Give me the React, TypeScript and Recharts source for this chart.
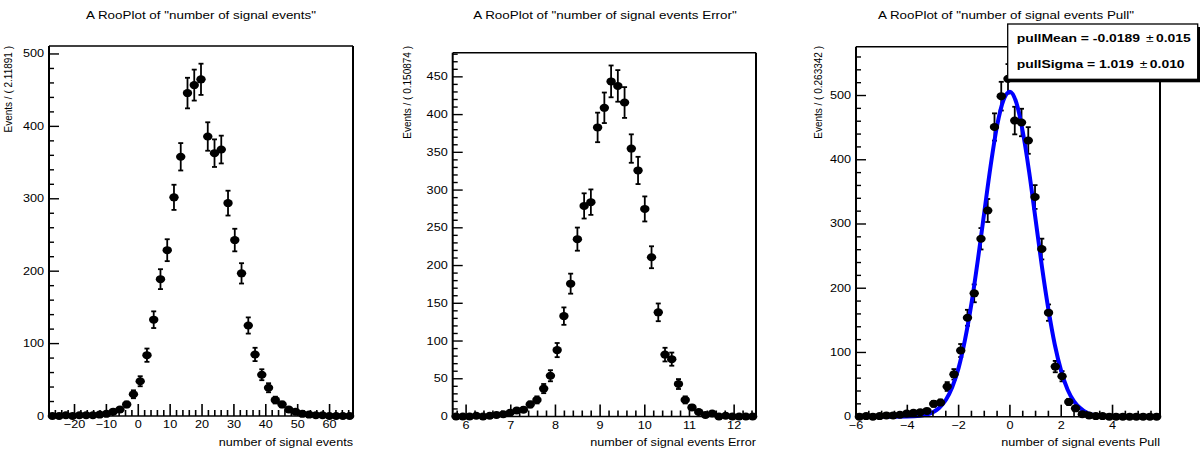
import React from "react";
import { ComposedChart, Scatter, Line, XAxis, YAxis, ErrorBar, ReferenceLine } from "recharts";

const FONT = '"Liberation Sans", Arial, Helvetica, sans-serif';

// panel 1: number of signal events (45 bins)
const sigMin = -28;
const sigBin = 2.11891;
const sigCounts = [
  0, 0, 1, 0, 1, 1, 1, 2, 3, 6, 9, 16, 30, 48, 84, 133, 189, 229, 302, 358, 446, 457, 465,
  386, 363, 368, 294, 243, 197, 125, 85, 57, 39, 22, 16, 9, 6, 3, 2, 1, 1, 0, 0, 0, 0,
];

// panel 2: number of signal events Error
const errMin = 5.7;
const errBin = 0.150874;
const errCounts = [
  0, 0, 0, 1, 0, 1, 2, 3, 5, 8, 9, 16, 22, 37, 54, 88, 133, 176, 235, 279, 284, 383, 409,
  444, 438, 416, 355, 326, 275, 211, 138, 82, 76, 43, 22, 12, 6, 2, 4, 0, 1, 0, 0, 0, 0,
];

// panel 3: number of signal events Pull
const pullMin = -6;
const pullBin = 0.263342;
const pullCounts = [
  0, 1, 0, 1, 2, 2, 3, 5, 6, 7, 9, 20, 22, 47, 66, 103, 154, 192, 277, 321, 451, 499, 526,
  461, 458, 430, 342, 261, 162, 78, 63, 23, 13, 4, 2, 1, 1, 0, 0, 0, 0, 0, 0, 0, 0,
];

// blue gaussian fit
const fitX = [-5.75, -5, -4.5, -4, -3.5, -3, -2.75, -2.5, -2.25, -2, -1.75, -1.5, -1.25, -1, -0.75, -0.5, -0.25, 0,
  0.25, 0.5, 0.75, 1, 1.25, 1.5, 1.75, 2, 2.25, 2.5, 2.75, 3, 3.5, 4, 4.5, 5, 5.75];
const fitY = [0, 0, 0, 0.2, 1.5, 7, 14, 26, 46, 76, 120, 176, 244, 318, 391, 453, 493, 506,
  489, 444, 381, 307, 233, 167, 112, 71, 42, 24, 13, 6, 1.3, 0.2, 0, 0, 0];

const titles = [
  'A RooPlot of "number of signal events"',
  'A RooPlot of "number of signal events Error"',
  'A RooPlot of "number of signal events Pull"',
];
const xTitles = ["number of signal events", "number of signal events Error", "number of signal events Pull"];
const yTitles = ["Events / ( 2.11891 )", "Events / ( 0.150874 )", "Events / ( 0.263342 )"];

const sigXMajor = [-20, -10, 0, 10, 20, 30, 40, 50, 60];
const errXMajor = [6, 7, 8, 9, 10, 11, 12];
const pullXMajor = [-6, -4, -2, 0, 2, 4];
const sigYMajor = [0, 100, 200, 300, 400, 500];
const errYMajor = [0, 50, 100, 150, 200, 250, 300, 350, 400, 450];
const pullYMajor = [0, 100, 200, 300, 400, 500];

const steps = (from: number, to: number, step: number) => {
  const out: number[] = [];
  for (let v = from; v <= to + 1e-9; v += step) out.push(Math.round(v * 1000) / 1000);
  return out;
};

const toPoints = (min: number, bin: number, counts: number[]) =>
  counts.map((n, i) => ({ x: min + bin * (i + 0.5), y: n, err: Math.sqrt(n) }));

const fmt = (v: number) => (v < 0 ? "\u2212" + Math.abs(v) : String(v));
const isMajor = (majors: number[], v: number) => majors.some((m) => Math.abs(m - v) < 1e-6);

const Marker = (p: any) => <ellipse cx={p.cx} cy={p.cy} rx={4.7} ry={4} fill="#000" />;

type Frame = { l: number; r: number; t: number; b: number };

function Panel(props: {
  left: number;
  frame: Frame;
  xDomain: [number, number];
  yMax: number;
  xMajor: number[];
  xMinor: number[];
  yMajor: number[];
  yMinor: number[];
  points: { x: number; y: number; err: number }[];
  curve?: { x: number; y: number }[];
}) {
  const { left, frame: f, xDomain, yMax, xMajor, xMinor, yMajor, yMinor, points, curve } = props;
  const xTicks = Array.from(new Set([...xMajor, ...xMinor])).sort((a, b) => a - b);
  const yTicks = Array.from(new Set([...yMajor, ...yMinor])).sort((a, b) => a - b);

  const XTick = (p: any) => {
    const v = p.payload.value;
    const major = isMajor(xMajor, v);
    return (
      <g>
        <line x1={p.x} x2={p.x} y1={p.y} y2={p.y - (major ? 12 : 6)} stroke="#000" strokeWidth={1.6} />
        {major && (
          <text transform={`translate(${p.x},${p.y + 12}) scale(1.15,1)`} textAnchor="middle" fontSize={11} fontFamily={FONT} fill="#000">
            {fmt(v)}
          </text>
        )}
      </g>
    );
  };
  const YTick = (p: any) => {
    const v = p.payload.value;
    const major = isMajor(yMajor, v);
    return (
      <g>
        <line x1={p.x} x2={p.x + (major ? 10 : 5)} y1={p.y} y2={p.y} stroke="#000" strokeWidth={1.4} />
        {major && (
          <text transform={`translate(${p.x - 5},${p.y + 3.5}) scale(1.15,1)`} textAnchor="end" fontSize={11} fontFamily={FONT} fill="#000">
            {fmt(v)}
          </text>
        )}
      </g>
    );
  };

  return (
    <div style={{ position: "absolute", left, top: 0 }}>
      <ComposedChart
        width={400}
        height={450}
        margin={{ top: f.t, bottom: 450 - f.b - 1, left: f.l - left - 1, right: left + 400 - f.r }}
      >
        <XAxis
          dataKey="x"
          type="number"
          domain={xDomain}
          ticks={xTicks}
          interval={0}
          height={1}
          tickSize={0}
          tickMargin={0}
          tickLine={false}
          axisLine={{ stroke: "#000", strokeWidth: 1.6 }}
          tick={XTick}
        />
        <YAxis
          dataKey="y"
          type="number"
          domain={[0, yMax]}
          ticks={yTicks}
          interval={0}
          width={1}
          tickSize={0}
          tickMargin={0}
          tickLine={false}
          axisLine={{ stroke: "#000", strokeWidth: 2 }}
          tick={YTick}
        />
        <ReferenceLine x={xDomain[1]} stroke="#000" strokeWidth={2} />
        <ReferenceLine y={yMax} stroke="#000" strokeWidth={1.5} />
        <Scatter data={points} dataKey="y" fill="#000" shape={Marker} isAnimationActive={false}>
          <ErrorBar dataKey="err" direction="y" width={2.5} stroke="#000" strokeWidth={1.8} />
        </Scatter>
        {curve && (
          <Line
            data={curve}
            dataKey="y"
            type="monotone"
            stroke="#0000ff"
            strokeWidth={4}
            dot={false}
            activeDot={false}
            isAnimationActive={false}
          />
        )}
      </ComposedChart>
    </div>
  );
}

const frames: Frame[] = [
  { l: 49, r: 353, t: 46, b: 416 },
  { l: 452.7, r: 756, t: 52.7, b: 416.5 },
  { l: 856, r: 1160, t: 46.7, b: 416.7 },
];

export default function App() {
  const curve = fitX.map((x, i) => ({ x, y: fitY[i] }));
  const titleCenters = [201, 605, 1006];
  const yTitleX = [12, 411, 822];
  return (
    <div style={{ position: "absolute", left: 0, top: 0, width: 1200, height: 450, background: "#fff", fontFamily: FONT }}>
      <Panel
        left={0}
        frame={frames[0]}
        xDomain={[sigMin, sigMin + sigBin * sigCounts.length]}
        yMax={511}
        xMajor={sigXMajor}
        xMinor={steps(-26, 66, 2)}
        yMajor={sigYMajor}
        yMinor={steps(20, 500, 20)}
        points={toPoints(sigMin, sigBin, sigCounts)}
      />
      <Panel
        left={400}
        frame={frames[1]}
        xDomain={[errMin, errMin + errBin * errCounts.length]}
        yMax={482}
        xMajor={errXMajor}
        xMinor={steps(5.8, 12.4, 0.2)}
        yMajor={errYMajor}
        yMinor={steps(10, 480, 10)}
        points={toPoints(errMin, errBin, errCounts)}
      />
      <Panel
        left={800}
        frame={frames[2]}
        xDomain={[pullMin, pullMin + pullBin * pullCounts.length]}
        yMax={576}
        xMajor={pullXMajor}
        xMinor={steps(-5.5, 5.5, 0.5)}
        yMajor={pullYMajor}
        yMinor={steps(20, 560, 20)}
        points={toPoints(pullMin, pullBin, pullCounts)}
        curve={curve}
      />
      <svg width={1200} height={450} style={{ position: "absolute", left: 0, top: 0, pointerEvents: "none" }} fontFamily={FONT}>
        {titles.map((t, i) => (
          <text key={t} transform={`translate(${titleCenters[i]},19) scale(1.22,1)`} textAnchor="middle" fontSize={11} fill="#000">
            {t}
          </text>
        ))}
        {xTitles.map((t, i) => (
          <text key={t} transform={`translate(${frames[i].r},445.5) scale(1.15,1)`} textAnchor="end" fontSize={11} fill="#000">
            {t}
          </text>
        ))}
        {yTitles.map((t, i) => (
          <text key={t} transform={`translate(${yTitleX[i]},46) scale(1.15,1) rotate(-90)`} textAnchor="end" fontSize={10} fill="#000">
            {t}
          </text>
        ))}
        <rect x={1010.7} y={27} width={190} height={55.3} fill="#000" />
        <rect x={1007.7} y={24} width={190} height={55.3} fill="#fff" stroke="#000" strokeWidth={1.3} />
        <text transform="translate(1016.7,41.7) scale(1.2,1)" fontSize={11.6} fontWeight="bold" fill="#000">
          pullMean = -0.0189
          <tspan dx={5} fontWeight="normal">±</tspan>
          <tspan dx={2}>0.015</tspan>
        </text>
        <text transform="translate(1016.7,68.3) scale(1.2,1)" fontSize={11.6} fontWeight="bold" fill="#000">
          pullSigma = 1.019
          <tspan dx={5} fontWeight="normal">±</tspan>
          <tspan dx={2}>0.010</tspan>
        </text>
      </svg>
    </div>
  );
}
